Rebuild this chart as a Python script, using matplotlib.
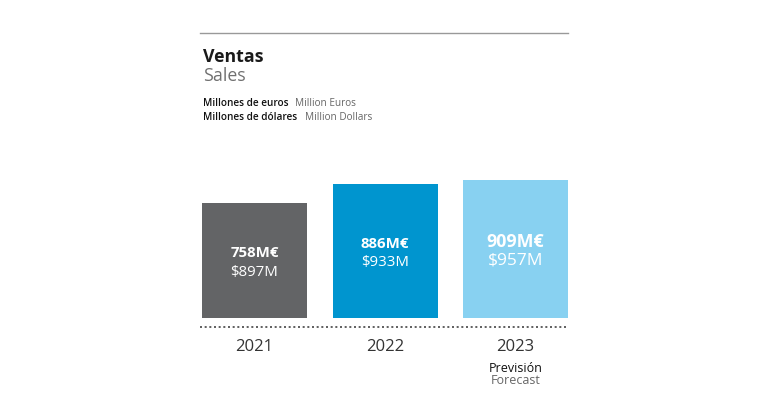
import matplotlib
matplotlib.use("Agg")
import matplotlib.pyplot as plt
from matplotlib.lines import Line2D

years = ["2021", "2022", "2023"]
euros = [758, 886, 909]
dollars = [897, 933, 957]
colors = ["#636466", "#0095cf", "#88d1f1"]

plt.rcParams['font.family'] = ['Open Sans', 'DejaVu Sans']

W, H = 768, 420
fig = plt.figure(figsize=(W/100, H/100), dpi=100)

def fx(px): return px / W
def fy(py): return 1 - py / H

scale = 0.1517
ymax = 1000
ax_top = 318 - ymax * scale
ax = fig.add_axes([fx(200), fy(318), fx(568) - fx(200), (318 - ax_top) / H])
ax.set_xlim((200 - 254.5) / 130.5, (568 - 254.5) / 130.5)
ax.set_ylim(0, ymax)
ax.axis('off')

xs = list(range(len(years)))
ax.bar(xs, euros, width=105/130.5, color=colors)

for i, (e, d) in enumerate(zip(euros, dollars)):
    big = (i == 2)
    ax.annotate(f"{e}M€", (i, e / 2), xytext=(0, 5.2), textcoords='offset points',
                ha='center', va='center', color='white', fontweight='bold',
                fontsize=12.8 if big else 10.8)
    ax.annotate(f"${d}M", (i, e / 2), xytext=(0, -8.3), textcoords='offset points',
                ha='center', va='center', color='white',
                fontsize=12.5 if big else 10.8)
    cx = 254.5 + 130.5 * i
    fig.text(fx(cx), fy(347), years[i], ha='center', va='center',
             fontsize=12, color='#333333')

fig.text(fx(515.5), fy(368), "Previsión", ha='center', va='center', fontsize=9, color='#111111')
fig.text(fx(515.5), fy(381), "Forecast", ha='center', va='center', fontsize=9, color='#666666')

fig.add_artist(Line2D([fx(200), fx(568)], [fy(33), fy(33)], color='#999999', lw=1))
fig.add_artist(Line2D([fx(200), fx(568)], [fy(327), fy(327)], color='#444444', lw=1.2,
                      linestyle=(0, (1.2, 1.6))))

fig.text(fx(203), fy(57), "Ventas", ha='left', va='center', fontsize=12.8,
         fontweight='bold', color='#1a1a1a')
fig.text(fx(203), fy(76), "Sales", ha='left', va='center', fontsize=12.8, color='#707070')

fig.text(fx(203), fy(103), "Millones de euros", ha='left', va='center', fontsize=7.2,
         fontweight='semibold', color='#111111')
fig.text(fx(203), fy(118), "Millones de dólares", ha='left', va='center', fontsize=7.2,
         fontweight='semibold', color='#111111')
fig.text(fx(295), fy(103), "Million Euros", ha='left', va='center', fontsize=7.2, color='#666666')
fig.text(fx(305), fy(118), "Million Dollars", ha='left', va='center', fontsize=7.2, color='#666666')

fig.savefig("out.png", dpi=100, facecolor='white')
